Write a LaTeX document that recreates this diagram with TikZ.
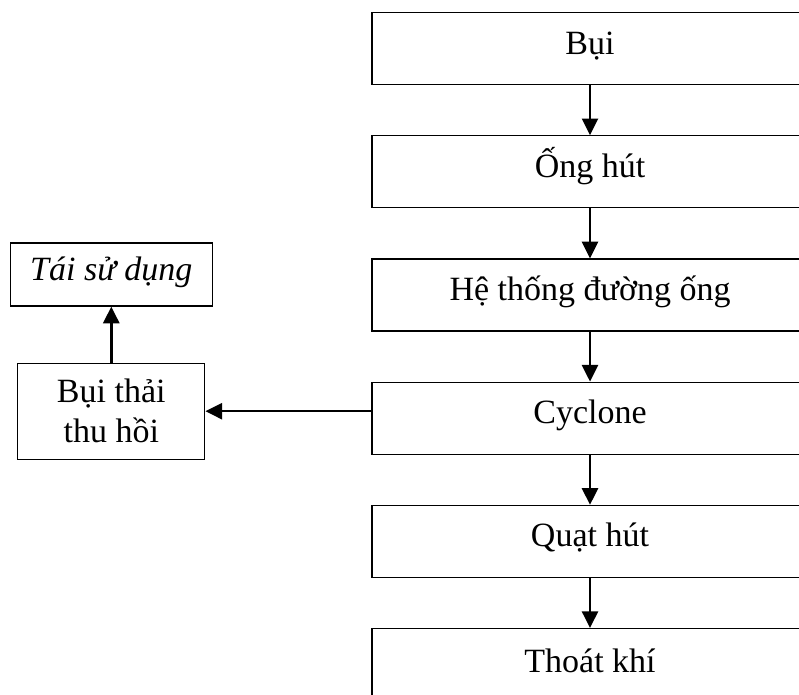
\documentclass[tikz,border=0pt]{standalone}
\usepackage{fontspec}
\setmainfont{Liberation Serif}
\usepackage{tikz}
\usetikzlibrary{arrows.meta, positioning}
\tikzset{
  block/.style={rectangle, draw=black, line width=0.9pt, minimum width=327pt,
    minimum height=54pt, align=center, text height=0.97em, text depth=0.14em,
    font=\fontsize{25.5pt}{30pt}\selectfont},
  sidebox/.style={rectangle, draw=black, line width=0.9pt, align=center,
    font=\fontsize{25.5pt}{30pt}\selectfont},
  arrowline/.style={-{Triangle[length=12.5pt, width=12pt]}, line width=1.9pt}
}

\begin{document}
\begin{tikzpicture}[node distance=37.5pt]
  \useasboundingbox (0,0) rectangle (599.25pt,-521.25pt);
  \clip (0,0) rectangle (599.25pt,-521.25pt);
  \node[block, anchor=north] (bui) at (442.5pt,-9pt) {Bụi};
  \node[block, below=of bui] (onghut) {Ống hút};
  \node[block, below=of onghut] (duongong) {Hệ thống đường ống};
  \node[block, below=of duongong] (cyclone) {Cyclone};
  \node[block, below=of cyclone] (quathut) {Quạt hút};
  \node[block, below=of quathut, minimum height=58pt] (thoatkhi) {Thoát khí};
  \node[sidebox, minimum width=140.25pt, minimum height=72pt, left=124.5pt of cyclone, yshift=5.25pt] (thuhoi) {Bụi thải\\thu hồi};
  \node[sidebox, minimum width=151.5pt, minimum height=47.25pt, above=42pt of thuhoi, text height=0.97em, text depth=0.14em] (taisudung) {\itshape Tái sử dụng};

  \draw[arrowline] (bui) -- (onghut);
  \draw[arrowline] (onghut) -- (duongong);
  \draw[arrowline] (duongong) -- (cyclone);
  \draw[arrowline] (cyclone) -- (quathut);
  \draw[arrowline] (quathut) -- (thoatkhi);
  \draw[arrowline] (cyclone.west |- thuhoi.east) -- (thuhoi.east);
  \draw[arrowline] (thuhoi) -- (taisudung);
\end{tikzpicture}
\end{document}
